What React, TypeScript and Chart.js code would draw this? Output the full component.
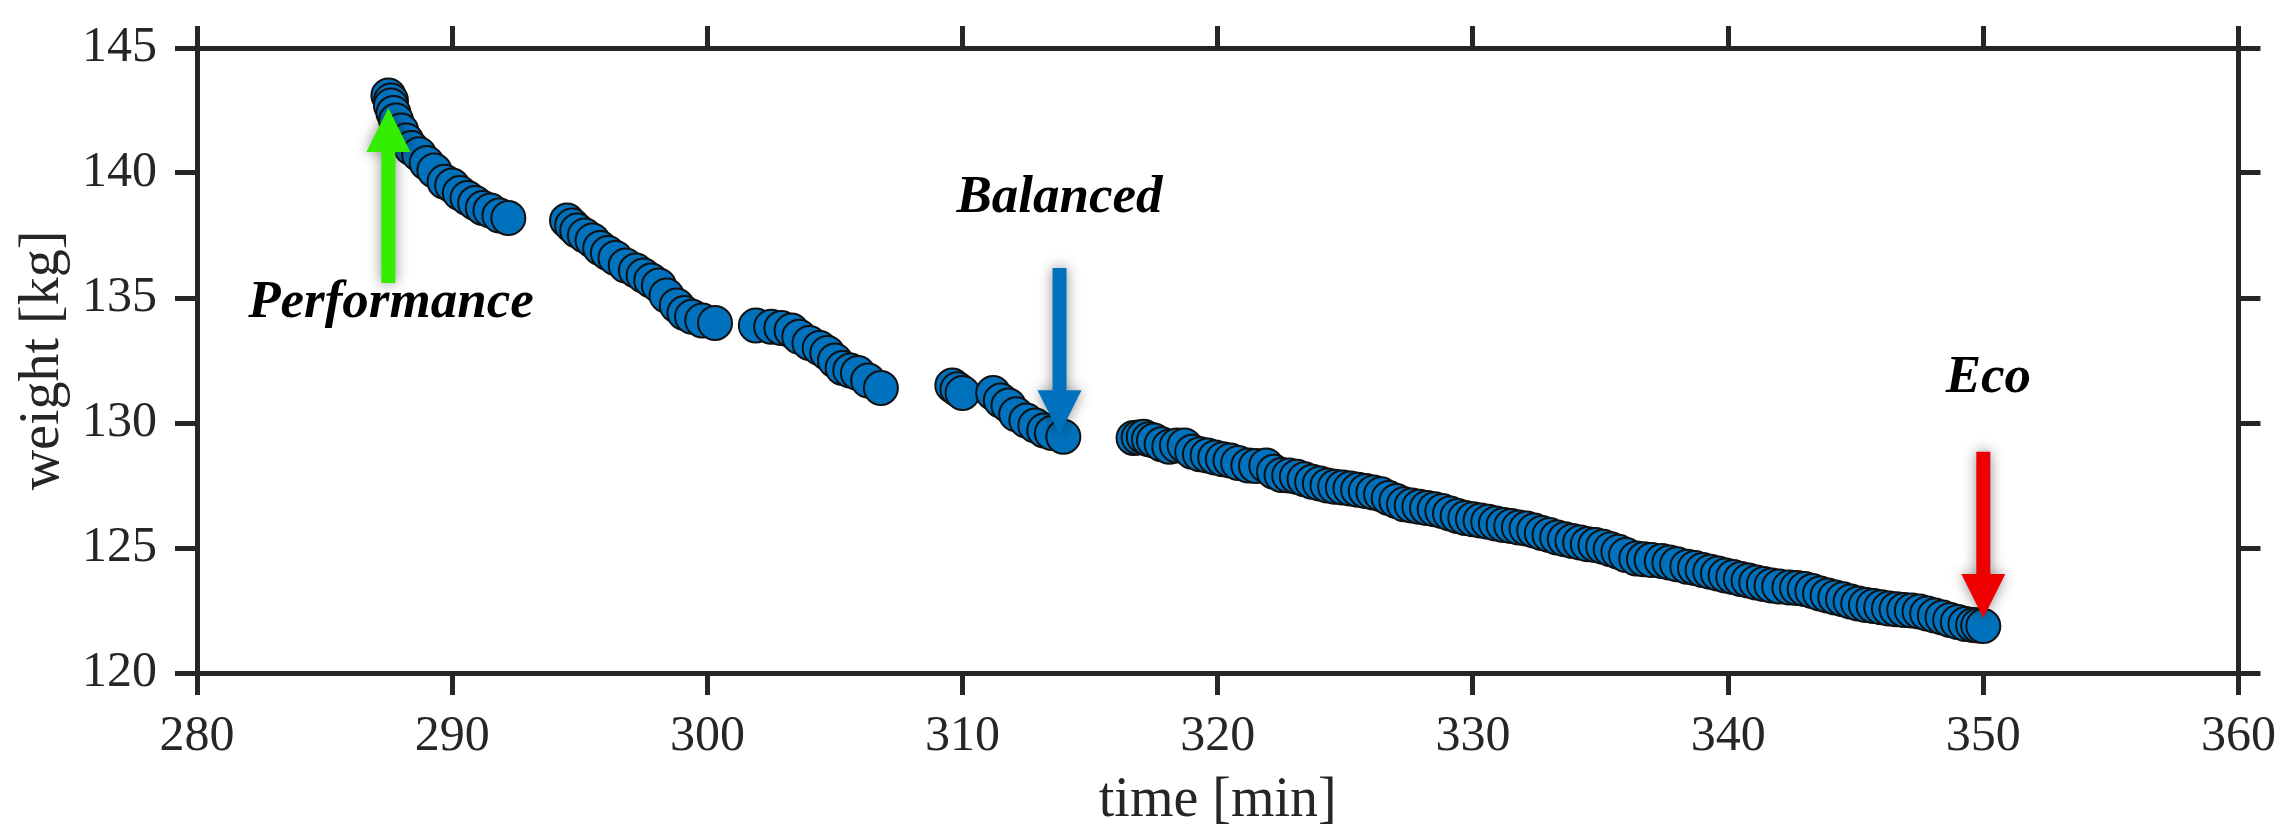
import React, { useEffect, useRef } from "react";
import { Chart, registerables } from "chart.js";

Chart.register(...registerables);

// ---- Data ----
const perfTime = [287.5, 287.6, 287.6, 287.7, 287.8, 288.0, 288.2, 288.4, 288.7, 289.0, 289.3, 289.7, 290.0, 290.3, 290.6, 290.9, 291.2, 291.5, 291.85, 292.2];
const perfWeight = [143.1, 142.9, 142.7, 142.4, 142.1, 141.7, 141.3, 141.0, 140.75, 140.4, 140.1, 139.65, 139.5, 139.2, 139.0, 138.8, 138.6, 138.5, 138.3, 138.2];

const midTime = [294.5, 294.7, 294.9, 295.2, 295.5, 295.8, 296.1, 296.4, 296.8, 297.2, 297.5, 297.8, 298.1, 298.4, 298.8, 299.1, 299.4, 299.8, 300.3,
  301.9, 302.5, 302.9, 303.3, 303.6, 304.0, 304.4, 304.7, 305.0, 305.3, 305.6, 305.9, 306.3, 306.8];
const midWeight = [138.1, 137.9, 137.7, 137.5, 137.3, 137.0, 136.8, 136.6, 136.3, 136.1, 135.9, 135.7, 135.5, 135.1, 134.7, 134.4, 134.25, 134.1, 134.0,
  133.9, 133.85, 133.8, 133.7, 133.45, 133.2, 133.0, 132.8, 132.5, 132.2, 132.1, 132.0, 131.7, 131.4];

const balTime = [309.6, 309.8, 310.0, 311.2, 311.5, 311.8, 312.1, 312.5, 312.85, 313.2, 313.5, 313.95];
const balWeight = [131.5, 131.35, 131.2, 131.2, 130.9, 130.7, 130.35, 130.1, 129.9, 129.7, 129.6, 129.45];

const ecoTime = [316.7, 316.9, 317.1, 317.3, 317.5, 317.8, 318.1, 318.4, 318.7, 319.0, 319.3, 319.6, 319.9, 320.2, 320.5, 320.8, 321.2, 321.5, 321.9,
  322.2, 322.5, 322.8, 323.1, 323.4, 323.7, 324.0, 324.3, 324.6, 324.9, 325.2, 325.5, 325.8, 326.1, 326.4, 326.7, 327.0, 327.3, 327.6, 327.9,
  328.2, 328.5, 328.8, 329.1, 329.4, 329.7, 330.0, 330.3, 330.6, 330.9, 331.2, 331.5, 331.8, 332.1, 332.4, 332.7, 333.0, 333.3, 333.6, 333.9,
  334.2, 334.5, 334.8, 335.1, 335.4, 335.7, 336.0, 336.4, 336.7, 337.0, 337.4, 337.7, 338.0, 338.4, 338.7, 339.0, 339.3, 339.6, 339.9, 340.2,
  340.5, 340.8, 341.1, 341.4, 341.7, 342.0, 342.4, 342.7, 343.0, 343.3, 343.6, 343.9, 344.2, 344.5, 344.8, 345.1, 345.4, 345.7, 346.0, 346.3,
  346.6, 346.9, 347.2, 347.5, 347.8, 348.1, 348.4, 348.7, 349.0, 349.3, 349.6, 349.8, 350.0];
const ecoWeight = [129.4, 129.42, 129.45, 129.35, 129.3, 129.15, 129.05, 129.1, 129.1, 128.85, 128.75, 128.7, 128.62, 128.55, 128.5, 128.4, 128.3, 128.28, 128.3,
  128.05, 127.92, 127.9, 127.85, 127.75, 127.65, 127.58, 127.5, 127.45, 127.42, 127.38, 127.33, 127.28, 127.22, 127.15, 127.0, 126.88, 126.75, 126.7, 126.65,
  126.6, 126.55, 126.48, 126.38, 126.28, 126.2, 126.15, 126.1, 126.05, 125.98, 125.92, 125.88, 125.82, 125.78, 125.7, 125.6, 125.52, 125.42, 125.35, 125.28,
  125.22, 125.15, 125.12, 125.05, 124.95, 124.85, 124.72, 124.58, 124.55, 124.52, 124.48, 124.42, 124.35, 124.25, 124.2, 124.12, 124.05, 123.98, 123.9, 123.84,
  123.76, 123.7, 123.62, 123.56, 123.5, 123.46, 123.42, 123.4, 123.36, 123.28, 123.18, 123.1, 123.02, 122.95, 122.86, 122.78, 122.72, 122.68, 122.63, 122.58,
  122.55, 122.52, 122.5, 122.46, 122.38, 122.3, 122.22, 122.12, 122.04, 121.96, 121.92, 121.9, 121.88];

const xTicksMin = 280;
const xTicksMax = 360;
const xStep = 10;
const yTicksMin = 120;
const yTicksMax = 145;
const yStep = 5;

// Annotations (mode markers)
const modeNames = ["Performance", "Balanced", "Eco"];
const labelTime = [287.6, 313.8, 350.2];
const labelWeight = [134.77, 138.97, 131.8];
const arrowTime = [287.5, 313.8, 350.0];
const arrowTailWeight = [135.6, 136.2, 128.85];
const arrowTipWeight = [142.6, 129.55, 122.2];
const arrowColors = ["#33ee00", "#0072bd", "#ee0000"];

const FONT = "'Liberation Serif', 'Times New Roman', Times, serif";
const AXIS = "#262626";

const annotationPlugin = {
  id: "modeArrows",
  afterDatasetsDraw(chart: any) {
    const ctx = chart.ctx;
    const xs = chart.scales.x;
    const ys = chart.scales.y;
    const shaftW = 14;
    const headW = 44;
    const headL = 44;
    for (let i = 0; i < modeNames.length; i++) {
      const px = xs.getPixelForValue(arrowTime[i]);
      const tail = ys.getPixelForValue(arrowTailWeight[i]);
      const tip = ys.getPixelForValue(arrowTipWeight[i]);
      const dir = tip < tail ? -1 : 1;
      const base = tip - dir * headL;
      ctx.save();
      ctx.shadowColor = "rgba(0,0,0,0.45)";
      ctx.shadowBlur = 14;
      ctx.fillStyle = arrowColors[i];
      ctx.beginPath();
      ctx.moveTo(px - shaftW / 2, tail);
      ctx.lineTo(px - shaftW / 2, base);
      ctx.lineTo(px - headW / 2, base);
      ctx.lineTo(px, tip);
      ctx.lineTo(px + headW / 2, base);
      ctx.lineTo(px + shaftW / 2, base);
      ctx.lineTo(px + shaftW / 2, tail);
      ctx.closePath();
      ctx.fill();
      ctx.restore();

      ctx.save();
      ctx.fillStyle = "#000";
      ctx.font = `italic bold 53px ${FONT}`;
      ctx.textAlign = "center";
      ctx.textBaseline = "middle";
      ctx.fillText(modeNames[i], xs.getPixelForValue(labelTime[i]), ys.getPixelForValue(labelWeight[i]));
      ctx.restore();
    }
  },
};

export default function App() {
  const canvasRef = useRef<HTMLCanvasElement | null>(null);

  useEffect(() => {
    document.body.style.margin = "0";
    const canvas = canvasRef.current;
    if (!canvas) return;

    const points = [
      ...perfTime.map((t, i) => ({ x: t, y: perfWeight[i] })),
      ...midTime.map((t, i) => ({ x: t, y: midWeight[i] })),
      ...balTime.map((t, i) => ({ x: t, y: balWeight[i] })),
      ...ecoTime.map((t, i) => ({ x: t, y: ecoWeight[i] })),
    ];

    const tickFont = { family: FONT, size: 50, lineHeight: 1.2 };
    const titleFont = { family: FONT, size: 56, lineHeight: 1.0 };
    const gridCommon = {
      drawOnChartArea: false,
      drawTicks: true,
      tickLength: 22,
      lineWidth: 5,
      color: AXIS,
      tickColor: AXIS,
    };
    const borderCommon = { display: true, width: 5, color: AXIS };

    const chart = new Chart(canvas, {
      type: "scatter",
      data: {
        datasets: [
          {
            data: points,
            backgroundColor: "#0072bd",
            borderColor: "#111111",
            borderWidth: 2,
            pointRadius: 17,
            pointHoverRadius: 17,
          },
        ],
      },
      options: {
        animation: false,
        responsive: false,
        devicePixelRatio: 1,
        layout: { padding: 0 },
        plugins: { legend: { display: false }, tooltip: { enabled: false } },
        scales: {
          x: {
            type: "linear",
            position: "bottom",
            min: xTicksMin,
            max: xTicksMax,
            ticks: { stepSize: xStep, font: tickFont, color: AXIS, padding: 12, maxRotation: 0 },
            grid: gridCommon,
            border: borderCommon,
            title: { display: true, text: "time [min]", font: titleFont, color: AXIS, padding: { top: 0, bottom: 2 } },
            afterFit: (s: any) => { s.height = 158; },
          },
          x2: {
            type: "linear",
            position: "top",
            min: xTicksMin,
            max: xTicksMax,
            ticks: { stepSize: xStep, display: false },
            grid: gridCommon,
            border: borderCommon,
            afterFit: (s: any) => { s.height = 36; },
          },
          y: {
            type: "linear",
            position: "left",
            min: yTicksMin,
            max: yTicksMax,
            ticks: { stepSize: yStep, font: tickFont, color: AXIS, padding: 18 },
            grid: gridCommon,
            border: borderCommon,
            title: { display: true, text: "weight [kg]", font: titleFont, color: AXIS, padding: { top: 15, bottom: 0 } },
            afterFit: (s: any) => { s.width = 197; },
          },
          y2: {
            type: "linear",
            position: "right",
            min: yTicksMin,
            max: yTicksMax,
            ticks: { stepSize: yStep, display: false },
            grid: gridCommon,
            border: borderCommon,
            afterFit: (s: any) => { s.width = 45; },
          },
        },
      } as any,
      plugins: [annotationPlugin],
    });

    return () => chart.destroy();
  }, []);

  return (
    <div style={{ width: 2288, height: 831, background: "#fff" }}>
      <canvas ref={canvasRef} width={2288} height={831} style={{ display: "block", width: 2288, height: 831 }} />
    </div>
  );
}
